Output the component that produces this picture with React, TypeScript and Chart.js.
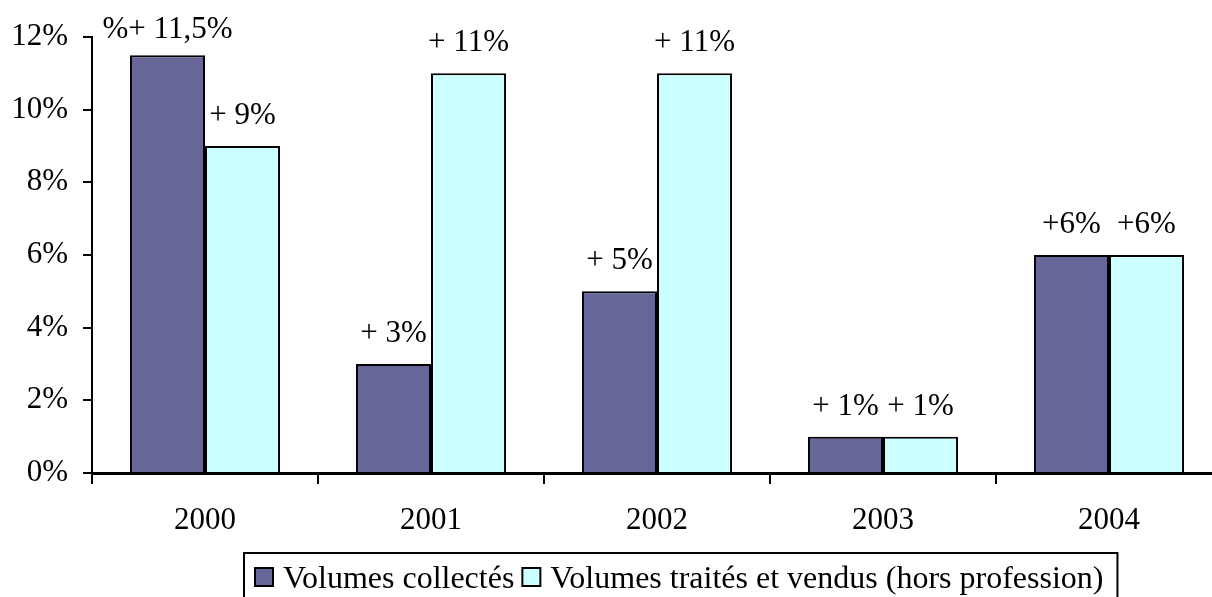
import React, { useEffect, useRef } from "react";
import { Chart, registerables } from "chart.js";

Chart.register(...registerables);

const years = ["2000", "2001", "2002", "2003", "2004"];
const collected = [11.5, 3, 5, 1, 6];
const sold = [9, 11, 11, 1, 6];
const collectedLabels = ["%+ 11,5%", "+ 3%", "+ 5%", "+ 1%", "+6%"];
const soldLabels = ["+ 9%", "+ 11%", "+ 11%", "+ 1%", "+6%"];
const seriesNames = ["Volumes collectés", "Volumes traités et vendus (hors profession)"];
const yTicks = [0, 2, 4, 6, 8, 10, 12];

const FONT_FAMILY = '"Liberation Serif", "Times New Roman", serif';
const FONT_SIZE = 31;
const FONT = `${FONT_SIZE}px ${FONT_FAMILY}`;
const LEGEND_FONT = `32px ${FONT_FAMILY}`;

const barLabelsPlugin = {
  id: "barLabels",
  afterDatasetsDraw(chart: any) {
    const ctx = chart.ctx;
    ctx.save();
    ctx.font = FONT;
    ctx.fillStyle = "#000";
    ctx.textAlign = "center";
    ctx.textBaseline = "alphabetic";
    chart.data.datasets.forEach((_ds: any, i: number) => {
      const meta = chart.getDatasetMeta(i);
      const labels = i === 0 ? collectedLabels : soldLabels;
      meta.data.forEach((bar: any, j: number) => {
        const y = Math.max(bar.y - 22, 38);
        ctx.fillText(labels[j], bar.x, y);
      });
    });
    ctx.restore();
  },
};

const boxLegendPlugin = {
  id: "boxLegend",
  afterDraw(chart: any) {
    const ctx = chart.ctx;
    ctx.save();
    ctx.font = LEGEND_FONT;
    ctx.textBaseline = "alphabetic";
    ctx.textAlign = "left";
    const left = 244;
    const top = 553;
    const sq = 18;
    const sqTop = 568;
    const baseline = 588;
    let x = left + 11;
    chart.data.datasets.forEach((ds: any, i: number) => {
      ctx.fillStyle = ds.backgroundColor;
      ctx.fillRect(x, sqTop, sq, sq);
      ctx.strokeStyle = "#000";
      ctx.lineWidth = 2;
      ctx.strokeRect(x, sqTop, sq, sq);
      x += sq + 10;
      ctx.fillStyle = "#000";
      ctx.fillText(ds.label, x, baseline);
      x += ctx.measureText(ds.label).width;
      if (i < chart.data.datasets.length - 1) x += 8;
    });
    const right = x + 14;
    ctx.strokeStyle = "#000";
    ctx.lineWidth = 2;
    ctx.strokeRect(left, top, right - left, 60);
    ctx.restore();
  },
};

export default function App() {
  const ref = useRef<HTMLCanvasElement | null>(null);

  useEffect(() => {
    if (!ref.current) return;
    const font = { family: FONT_FAMILY, size: FONT_SIZE };
    const chart = new Chart(ref.current, {
      type: "bar",
      data: {
        labels: years,
        datasets: [
          {
            label: seriesNames[0],
            data: collected,
            backgroundColor: "#666699",
            borderColor: "#000",
            borderWidth: 2,
          },
          {
            label: seriesNames[1],
            data: sold,
            backgroundColor: "#CCFFFF",
            borderColor: "#000",
            borderWidth: 2,
          },
        ],
      },
      options: {
        responsive: false,
        animation: false,
        devicePixelRatio: 1,
        layout: { padding: { left: 0, top: 37, right: 18, bottom: 107 } },
        datasets: {
          bar: { categoryPercentage: 0.664, barPercentage: 1 },
        },
        plugins: {
          legend: { display: false },
          tooltip: { enabled: false },
          title: { display: false },
        },
        scales: {
          x: {
            grid: {
              display: true,
              drawOnChartArea: false,
              drawTicks: true,
              tickLength: 11,
              color: "#000",
              lineWidth: 2,
              offset: true,
            },
            border: { display: true, color: "#000", width: 3 },
            ticks: { font, color: "#000", padding: 18 },
            afterFit: (s: any) => {
              s.height = 60;
            },
          },
          y: {
            min: 0,
            max: 12,
            afterBuildTicks: (s: any) => {
              s.ticks = yTicks.map((v) => ({ value: v }));
            },
            ticks: {
              font,
              color: "#000",
              padding: 15,
              callback: (v: any) => `${v}%`,
            },
            grid: {
              drawOnChartArea: false,
              drawTicks: true,
              tickLength: 9,
              color: "#000",
              lineWidth: 2,
            },
            border: { display: true, color: "#000", width: 2 },
            afterFit: (s: any) => {
              s.width = 92;
            },
          },
        },
      },
      plugins: [barLabelsPlugin, boxLegendPlugin],
    });
    return () => chart.destroy();
  }, []);

  return (
    <div
      style={{
        position: "fixed",
        left: 0,
        top: 0,
        width: 1212,
        height: 597,
        overflow: "hidden",
        background: "#fff",
      }}
    >
      <canvas
        ref={ref}
        width={1240}
        height={640}
        style={{ width: 1240, height: 640, display: "block" }}
      />
    </div>
  );
}
